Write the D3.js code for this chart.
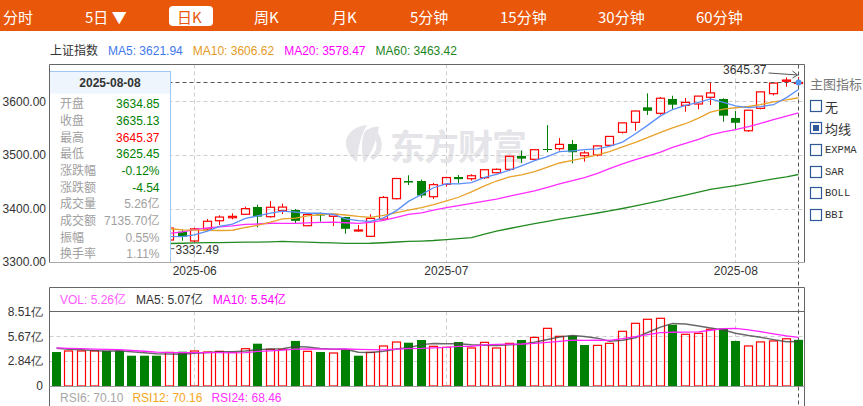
<!DOCTYPE html>
<html>
<head>
<meta charset="utf-8">
<script src="https://cdn.jsdelivr.net/npm/d3@7/dist/d3.min.js"></script>
<style>
  body { margin: 0; background: #fff; }
  svg { display: block; font-family: "Liberation Sans", Arial, "Noto Sans CJK SC", sans-serif; }
</style>
</head>
<body>
<svg id="chart" width="863" height="406"></svg>
<script>
// =============================================================================
// 上证指数 daily K-line (日K), 2025-05-16 .. 2025-08-08, with MA lines and volume
// =============================================================================

const dates = [
  "2025-05-16","2025-05-19","2025-05-20","2025-05-21","2025-05-22","2025-05-23","2025-05-26","2025-05-27","2025-05-28","2025-05-29","2025-05-30",
  "2025-06-03","2025-06-04","2025-06-05","2025-06-06","2025-06-09","2025-06-10","2025-06-11","2025-06-12","2025-06-13","2025-06-16",
  "2025-06-17","2025-06-18","2025-06-19","2025-06-20","2025-06-23","2025-06-24","2025-06-25","2025-06-26","2025-06-27","2025-06-30",
  "2025-07-01","2025-07-02","2025-07-03","2025-07-04","2025-07-07","2025-07-08","2025-07-09","2025-07-10","2025-07-11","2025-07-14",
  "2025-07-15","2025-07-16","2025-07-17","2025-07-18","2025-07-21","2025-07-22","2025-07-23","2025-07-24","2025-07-25","2025-07-28",
  "2025-07-29","2025-07-30","2025-07-31","2025-08-01","2025-08-04","2025-08-05","2025-08-06","2025-08-07","2025-08-08",
];

const opens = [
  3374.00, 3359.00, 3369.00, 3379.00, 3384.00, 3381.00, 3348.00, 3340.00, 3341.00, 3341.20, 3356.70,
  3339.40, 3361.80, 3377.20, 3382.80, 3389.20, 3402.80, 3384.70, 3395.90, 3397.20, 3367.90,
  3389.20, 3385.40, 3384.10, 3358.90, 3348.10, 3380.40, 3418.30, 3451.30, 3451.30, 3422.00,
  3445.10, 3458.80, 3455.60, 3457.50, 3466.80, 3473.10, 3498.00, 3491.80, 3511.00, 3511.60,
  3520.30, 3498.50, 3499.80, 3517.90, 3542.20, 3560.80, 3588.80, 3577.60, 3604.30, 3592.50,
  3595.00, 3607.50, 3604.30, 3568.80, 3545.10, 3586.90, 3614.20, 3637.30, 3634.85,
];
const highs = [
  3381.00, 3374.00, 3385.00, 3392.00, 3386.00, 3384.00, 3356.00, 3347.00, 3348.00, 3365.00, 3361.20,
  3364.00, 3380.40, 3387.30, 3391.00, 3403.40, 3407.10, 3414.00, 3409.00, 3399.10, 3390.50,
  3392.20, 3389.80, 3384.50, 3369.20, 3389.00, 3423.30, 3457.00, 3462.00, 3454.00, 3447.60,
  3459.00, 3462.50, 3464.00, 3473.50, 3474.70, 3498.50, 3508.00, 3511.00, 3555.60, 3531.50,
  3527.80, 3507.80, 3517.50, 3535.00, 3560.50, 3582.50, 3614.90, 3608.00, 3610.40, 3606.20,
  3610.00, 3636.00, 3605.60, 3581.90, 3584.00, 3618.00, 3634.30, 3644.50, 3645.37,
];
const lows = [
  3359.00, 3354.00, 3369.00, 3378.00, 3375.00, 3347.00, 3340.00, 3332.49, 3336.00, 3338.00, 3339.90,
  3337.00, 3360.00, 3369.20, 3379.90, 3388.00, 3364.90, 3383.00, 3389.70, 3371.00, 3367.00,
  3375.40, 3367.40, 3353.00, 3356.80, 3347.00, 3380.00, 3417.00, 3443.80, 3420.00, 3417.70,
  3441.00, 3447.00, 3452.00, 3455.00, 3466.00, 3470.00, 3485.00, 3490.00, 3505.00, 3508.00,
  3484.30, 3487.30, 3497.00, 3516.00, 3540.00, 3545.10, 3574.40, 3575.00, 3585.10, 3580.60,
  3585.10, 3593.10, 3561.90, 3548.30, 3543.00, 3585.00, 3611.00, 3627.20, 3625.45,
];
const closes = [
  3367.46, 3367.58, 3380.48, 3387.57, 3380.19, 3348.37, 3346.84, 3340.69, 3339.93, 3363.45, 3347.49,
  3361.98, 3376.20, 3384.10, 3385.36, 3399.77, 3384.82, 3402.32, 3402.66, 3377.00, 3388.73,
  3386.99, 3388.81, 3362.11, 3359.90, 3381.58, 3420.57, 3455.97, 3448.45, 3424.23, 3444.43,
  3457.75, 3454.79, 3461.15, 3472.32, 3473.13, 3497.48, 3493.05, 3509.68, 3510.18, 3519.65,
  3505.00, 3503.78, 3516.83, 3534.48, 3559.79, 3581.86, 3582.30, 3605.73, 3593.66, 3597.94,
  3609.71, 3615.72, 3573.21, 3559.95, 3583.31, 3617.60, 3633.99, 3639.67, 3635.13,
];
// closes of the 19 sessions before the window (warm-up for MA5/10/20)
const priorCloses = [
  3276.00, 3280.34, 3276.73, 3291.43, 3299.76, 3296.36, 3297.29, 3295.06, 3288.41, 3286.65,
  3279.03, 3316.11, 3342.67, 3352.00, 3341.97, 3369.24, 3374.87, 3403.95, 3380.82,
];
// MA60 (it needs sessions far before the window)
const ma60 = [
  3333.0, 3333.2, 3333.4, 3333.6, 3333.8, 3334.0, 3334.2, 3334.4, 3334.5, 3334.7, 3335.2,
  3335.9, 3336.4, 3336.5, 3336.7, 3337.2, 3337.3, 3337.8, 3338.6, 3337.9, 3337.2,
  3336.5, 3335.9, 3335.1, 3335.0, 3335.2, 3336.1, 3337.5, 3338.5, 3339.3, 3340.3,
  3342.1, 3343.9, 3345.8, 3352.1, 3357.6, 3362.7, 3367.2, 3371.8, 3375.9, 3380.1,
  3383.9, 3387.6, 3391.6, 3395.7, 3400.0, 3404.8, 3409.5, 3414.7, 3419.8, 3425.0,
  3430.5, 3435.5, 3439.3, 3442.8, 3446.8, 3450.9, 3455.3, 3459.2, 3463.42,
];

// volume, 亿 (hundred-million shares)
const volumes = [
  3.87, 3.99, 3.99, 3.99, 4.02, 4.02, 3.45, 3.45, 3.45, 3.83, 3.91,
  3.99, 3.87, 3.95, 3.83, 4.25, 4.82, 4.18, 4.18, 5.13, 3.95,
  3.87, 3.76, 4.18, 3.45, 3.83, 4.56, 5.01, 4.93, 5.24, 4.52,
  4.41, 5.01, 4.33, 4.97, 4.33, 4.86, 5.24, 5.54, 6.57, 5.66,
  5.73, 4.67, 4.63, 4.86, 6.23, 7.14, 7.60, 7.71, 6.98, 5.89,
  6.00, 6.46, 6.57, 5.13, 4.56, 5.02, 5.13, 5.38, 5.26,
];
const priorVolumes = [4.5, 4.3, 4.6, 4.4, 4.2, 4.5, 4.3, 4.4, 4.4];

const priceTicks = [3300, 3400, 3500, 3600];
const volTicks = [0, 2.84, 5.67, 8.51];

const tabs = ["分时", "5日 ▼", "日K", "周K", "月K", "5分钟", "15分钟", "30分钟", "60分钟"];
const activeTab = "日K";
const indicators = ["无", "均线", "EXPMA", "SAR", "BOLL", "BBI"];
const activeIndicator = "均线";
const turnoverAmount = "7135.70亿";
const turnoverRate = "1.11%";
const rsiLegend = [
  { text: "RSI6: 70.10", color: "#a6a6a6" },
  { text: "RSI12: 70.16", color: "#f5a623" },
  { text: "RSI24: 68.46", color: "#ff33ff" },
];

// ----- layout ------------------------------------------------------------------
const TAB_X = [3, 85, 177, 254, 332, 410, 500, 598, 696];
const P = { left: 49.5, right: 804.5, top: 64.5, bottom: 262.5 };
const V = { top: 287.5, line: 311.5, base: 386 };
const RED = "#ff0000", GREEN = "#008000";
const MA_COLORS = { ma5: "#5b8ff9", ma10: "#e8a229", ma20: "#ff2cff", ma60: "#238a23" };

const svg = d3.select("#chart");
const n = dates.length;

const x = d3.scaleBand().domain(dates).range([50, 805]).paddingInner(0.32).paddingOuter(0.16);
const cx = (i) => Math.floor(x(dates[i]) + x.bandwidth() / 2) + 0.5;
const yP = d3.scaleLinear().domain([3300, 3669.6]).range([262.1, 64]);
const yV = d3.scaleLinear().domain([0, 8.51]).range([V.base, 311.3]);

function rolling(series, prior, len) {
  const all = prior.concat(series);
  return series.map((_, i) => {
    const end = i + prior.length;
    return end - len + 1 < 0 ? null : d3.mean(all.slice(end - len + 1, end + 1));
  });
}
const ma5 = rolling(closes, priorCloses, 5);
const ma10 = rolling(closes, priorCloses, 10);
const ma20 = rolling(closes, priorCloses, 20);
const vma5 = rolling(volumes, priorVolumes, 5);
const vma10 = rolling(volumes, priorVolumes, 10);
const prevClose = (i) => (i === 0 ? priorCloses[priorCloses.length - 1] : closes[i - 1]);

// ----- tab bar -------------------------------------------------------------------
svg.append("rect").attr("width", 863).attr("height", 31).attr("fill", "#e9570b");
const tabG = svg.append("g").attr("font-family", "'Noto Sans CJK SC', sans-serif").attr("font-size", 15);
tabs.forEach((t, i) => {
  const on = t === activeTab;
  if (on) tabG.append("rect").attr("x", TAB_X[i] - 8).attr("y", 6).attr("width", 44).attr("height", 20)
    .attr("rx", 4).attr("fill", "#fff");
  tabG.append("text").attr("x", TAB_X[i]).attr("y", 16).attr("dominant-baseline", "central")
    .attr("fill", on ? "#e9570b" : "#fff").text(t);
});

// ----- legend line ---------------------------------------------------------------
function chain(g, items, x0, y, gap) {
  let xx = x0;
  items.forEach((it) => {
    const t = g.append("text").attr("x", xx).attr("y", y).attr("dominant-baseline", "central")
      .attr("fill", it.color).text(it.text);
    xx += t.node().getComputedTextLength() + gap;
  });
}
const last = n - 1;
chain(svg.append("g").attr("font-size", 12), [
  { text: "上证指数", color: "#333" },
  { text: `MA5: ${ma5[last].toFixed(2)}`, color: "#3f78ee" },
  { text: `MA10: ${ma10[last].toFixed(2)}`, color: "#e39b1e" },
  { text: `MA20: ${ma20[last].toFixed(2)}`, color: "#ff00ff" },
  { text: `MA60: ${ma60[last].toFixed(2)}`, color: "#1d841d" },
], 50, 51, 10);

// ----- watermark -----------------------------------------------------------------
const wm = svg.append("g").attr("fill", "#e4e4e9");
wm.append("path").attr("d", "M346,140 C349,131 357,126 367,125 C361,134 358,148 357,162 C350,157 345,149 346,140 Z");
wm.append("path").attr("d", "M365,131 C371,127 376,126 379,127 C377,139 372,153 364,163 C361,152 361,140 365,131 Z");
wm.append("path").attr("d", "M371,128 A18,18 0 0 1 373,160 L370,157 A15,15 0 0 0 368,131 Z");
wm.append("text").attr("x", 390).attr("y", 144).attr("dominant-baseline", "central")
  .attr("font-family", "'Noto Sans CJK SC', sans-serif").attr("font-weight", 700).attr("font-size", 35)
  .attr("letter-spacing", -1).text("东方财富");

// ----- price panel grid + axes ---------------------------------------------------------
const grid = svg.append("g").attr("stroke", "#cfcfcf").attr("stroke-dasharray", "4,3");
priceTicks.filter((t) => t > 3300).forEach((t) => {
  const yy = Math.round(yP(t)) + 0.5;
  grid.append("line").attr("x1", P.left).attr("x2", P.right).attr("y1", yy).attr("y2", yy);
});
const monthStarts = dates.filter((d, i) => i > 0 && d.slice(5, 7) !== dates[i - 1].slice(5, 7));
monthStarts.forEach((d) => {
  const xx = cx(dates.indexOf(d));
  grid.append("line").attr("x1", xx).attr("x2", xx).attr("y1", P.top).attr("y2", P.bottom);
  grid.append("line").attr("x1", xx).attr("x2", xx).attr("y1", V.line).attr("y2", V.base);
});
volTicks.filter((t) => t > 0 && t < 8.51).forEach((t) => {
  const yy = Math.round(yV(t)) + 0.5;
  grid.append("line").attr("x1", P.left).attr("x2", P.right).attr("y1", yy).attr("y2", yy);
});

const yAxisP = svg.append("g").attr("transform", "translate(46,0)")
  .call(d3.axisLeft(yP).tickValues(priceTicks).tickFormat(d3.format(".2f")).tickSize(0).tickPadding(0));
yAxisP.select(".domain").remove();
yAxisP.selectAll("text").attr("font-size", 12).attr("fill", "#333").attr("font-family", null);

const xAxis = svg.append("g").attr("transform", `translate(0,${P.bottom})`)
  .call(d3.axisBottom(x).tickValues(monthStarts).tickFormat((d) => d.slice(0, 7)).tickSize(0).tickPadding(4));
xAxis.select(".domain").remove();
xAxis.selectAll("text").attr("font-size", 12).attr("fill", "#333").attr("font-family", null);

// ----- candles -------------------------------------------------------------------------
const candles = svg.append("g");
const bodyW = 8;
closes.forEach((c, i) => {
  const o = opens[i], up = c >= o, xx = cx(i);
  const yTop = yP(Math.max(o, c)), yBot = yP(Math.min(o, c));
  const h = Math.max(1, yBot - yTop);
  if (up) {
    candles.append("line").attr("x1", xx).attr("x2", xx).attr("y1", yP(highs[i])).attr("y2", yTop).attr("stroke", RED);
    candles.append("line").attr("x1", xx).attr("x2", xx).attr("y1", yTop + h).attr("y2", yP(lows[i])).attr("stroke", RED);
    candles.append("rect").attr("x", xx - bodyW / 2).attr("y", yTop).attr("width", bodyW).attr("height", h)
      .attr("fill", "none").attr("stroke", RED).attr("stroke-width", 1.2);
  } else {
    candles.append("line").attr("x1", xx).attr("x2", xx).attr("y1", yP(highs[i])).attr("y2", yP(lows[i])).attr("stroke", GREEN);
    candles.append("rect").attr("x", xx - bodyW / 2 - 0.5).attr("y", yTop).attr("width", bodyW + 1).attr("height", h)
      .attr("fill", GREEN);
  }
});

// ----- MA lines ------------------------------------------------------------------------
const maLine = (yScale) => d3.line().defined((d) => d != null).x((d, i) => cx(i)).y((d) => yScale(d));
[["ma60", ma60], ["ma20", ma20], ["ma10", ma10], ["ma5", ma5]].forEach(([k, s]) => {
  svg.append("path").datum(s).attr("d", maLine(yP)).attr("fill", "none")
    .attr("stroke", MA_COLORS[k]).attr("stroke-width", 1.3);
});

// current price line + crosshair on the last session
const yLast = Math.round(yP(closes[last])) + 0.5;
svg.append("line").attr("x1", P.left).attr("x2", cx(last)).attr("y1", yLast).attr("y2", yLast)
  .attr("stroke", "#555").attr("stroke-dasharray", "4,3");
svg.append("line").attr("x1", cx(last)).attr("x2", cx(last)).attr("y1", P.top).attr("y2", 406)
  .attr("stroke", "#555").attr("stroke-dasharray", "4,3");
svg.append("circle").attr("cx", cx(last)).attr("cy", yLast).attr("r", 3).attr("fill", "#4d97f3");

// high / low markers
const iHi = d3.maxIndex(highs), iLo = d3.minIndex(lows);
const yHi = yP(highs[iHi]) - 2;
svg.append("line").attr("x1", cx(iHi) - 30).attr("x2", cx(iHi) - 1).attr("y1", yHi - 2).attr("y2", yHi)
  .attr("stroke", "#555");
svg.append("path").attr("d", `M${cx(iHi) - 6},${yHi - 4} L${cx(iHi) - 1},${yHi} L${cx(iHi) - 6},${yHi + 3}`)
  .attr("fill", "none").attr("stroke", "#555");
svg.append("text").attr("x", cx(iHi) - 32).attr("y", yHi - 5).attr("text-anchor", "end")
  .attr("dominant-baseline", "central").attr("font-size", 12).attr("fill", "#333").text(highs[iHi].toFixed(2));
const yLo = yP(lows[iLo]) + 4;
svg.append("line").attr("x1", cx(iLo)).attr("x2", cx(iLo) + 30).attr("y1", yLo).attr("y2", yLo).attr("stroke", "#555");

// ----- info box (last session) ---------------------------------------------------------------
const pc = prevClose(last);
const cmp = (v) => (v > pc ? RED : v < pc ? GREEN : "#999");
const chg = closes[last] - pc;
const infoRows = [
  ["开盘", opens[last].toFixed(2), cmp(opens[last])],
  ["收盘", closes[last].toFixed(2), cmp(closes[last])],
  ["最高", highs[last].toFixed(2), cmp(highs[last])],
  ["最低", lows[last].toFixed(2), cmp(lows[last])],
  ["涨跌幅", (chg / pc * 100).toFixed(2) + "%", cmp(closes[last])],
  ["涨跌额", chg.toFixed(2), cmp(closes[last])],
  ["成交量", volumes[last].toFixed(2) + "亿", "#a0a0a0"],
  ["成交额", turnoverAmount, "#a0a0a0"],
  ["振幅", ((highs[last] - lows[last]) / pc * 100).toFixed(2) + "%", "#a0a0a0"],
  ["换手率", turnoverRate, "#a0a0a0"],
];
const box = svg.append("g").attr("font-size", 12);
box.append("rect").attr("x", 49.5).attr("y", 71.5).attr("width", 121).attr("height", 191)
  .attr("fill", "#fff").attr("stroke", "#9ec9f5");
box.append("rect").attr("x", 50).attr("y", 72).attr("width", 120).attr("height", 21.5).attr("fill", "#eef5fd");
box.append("text").attr("x", 110).attr("y", 83).attr("text-anchor", "middle").attr("dominant-baseline", "central")
  .attr("font-weight", 700).attr("fill", "#333").text(dates[last]);
infoRows.forEach(([k, v, c], i) => {
  const yy = 104.3 + i * 16.67;
  box.append("text").attr("x", 60).attr("y", yy).attr("dominant-baseline", "central").attr("fill", "#a0a0a0").text(k);
  box.append("text").attr("x", 159.5).attr("y", yy).attr("text-anchor", "end").attr("dominant-baseline", "central")
    .attr("fill", c).text(v);
});
svg.append("text").attr("x", cx(iLo) + 31).attr("y", yLo + 1).attr("dominant-baseline", "central")
  .attr("font-size", 12).attr("fill", "#333").text(lows[iLo].toFixed(2));

// ----- frames -----------------------------------------------------------------------------------
const frame = svg.append("g").attr("fill", "none");
frame.append("path").attr("d", `M${P.left},${P.bottom} V${P.top} H${P.right} V${P.bottom}`).attr("stroke", "#666");
frame.append("line").attr("x1", P.left).attr("x2", P.right).attr("y1", P.bottom).attr("y2", P.bottom).attr("stroke", "#aaa");
frame.append("path").attr("d", `M${P.left},406 V${V.top} H${P.right} V406`).attr("stroke", "#666");
frame.append("line").attr("x1", P.left).attr("x2", P.right).attr("y1", V.line).attr("y2", V.line).attr("stroke", "#666");

// ----- volume panel ------------------------------------------------------------------------------
const vols = svg.append("g");
volumes.forEach((v, i) => {
  const up = closes[i] >= prevClose(i), xx = cx(i), yy = yV(v);
  if (up) {
    vols.append("rect").attr("x", xx - bodyW / 2).attr("y", yy).attr("width", bodyW).attr("height", V.base - yy)
      .attr("fill", "none").attr("stroke", RED).attr("stroke-width", 1.2);
  } else {
    vols.append("rect").attr("x", xx - bodyW / 2 - 0.5).attr("y", yy).attr("width", bodyW + 1).attr("height", V.base - yy)
      .attr("fill", GREEN);
  }
});
svg.append("line").attr("x1", P.left).attr("x2", P.right).attr("y1", V.base + 0.5).attr("y2", V.base + 0.5)
  .attr("stroke", "#999");
svg.append("path").datum(vma5).attr("d", maLine(yV)).attr("fill", "none").attr("stroke", "#444")
  .attr("stroke-opacity", 0.8).attr("stroke-width", 1.5);
svg.append("path").datum(vma10).attr("d", maLine(yV)).attr("fill", "none").attr("stroke", "#ff22ff")
  .attr("stroke-width", 1.3);

const yAxisV = svg.append("g").attr("transform", "translate(43,0)")
  .call(d3.axisLeft(yV).tickValues(volTicks).tickFormat((d) => (d === 0 ? "0" : d.toFixed(2) + "亿")).tickSize(0).tickPadding(0));
yAxisV.select(".domain").remove();
yAxisV.selectAll("text").attr("font-size", 12).attr("fill", "#333").attr("font-family", null);

chain(svg.append("g").attr("font-size", 12), [
  { text: `VOL: ${volumes[last].toFixed(2)}亿`, color: "#ff5cff" },
  { text: `MA5: ${vma5[last].toFixed(2)}亿`, color: "#333" },
  { text: `MA10: ${vma10[last].toFixed(2)}亿`, color: "#ff00ff" },
], 60, 299.5, 10);
chain(svg.append("g").attr("font-size", 12), rsiLegend, 60, 398, 9);
svg.append("text").attr("x", 43).attr("y", 411).attr("text-anchor", "end").attr("dominant-baseline", "central")
  .attr("font-size", 12).attr("fill", "#333").text("80.00");

// ----- indicator selector -------------------------------------------------------------------------
const sel = svg.append("g");
sel.append("text").attr("x", 810).attr("y", 83).attr("dominant-baseline", "central")
  .attr("font-family", "'Noto Sans CJK SC', sans-serif").attr("font-size", 13).attr("fill", "#777").text("主图指标");
indicators.forEach((name, i) => {
  const yy = 105.7 + i * 21.8;
  sel.append("rect").attr("x", 810.5).attr("y", Math.round(yy - 5.5) + 0.5).attr("width", 11).attr("height", 11)
    .attr("fill", "#fff").attr("stroke", "#2f5a97").attr("stroke-width", 1.2);
  if (name === activeIndicator) {
    sel.append("rect").attr("x", 813).attr("y", Math.round(yy - 5.5) + 3).attr("width", 6).attr("height", 6).attr("fill", "#2f5a97");
  }
  const cjk = /[\u4e00-\u9fff]/.test(name);
  sel.append("text").attr("x", 825).attr("y", yy + 0.5).attr("dominant-baseline", "central")
    .attr("font-family", cjk ? "'Noto Sans CJK SC', sans-serif" : "'Liberation Mono', monospace")
    .attr("font-size", cjk ? 13 : 10.5).attr("fill", "#333").text(name);
});
</script>
</body>
</html>
